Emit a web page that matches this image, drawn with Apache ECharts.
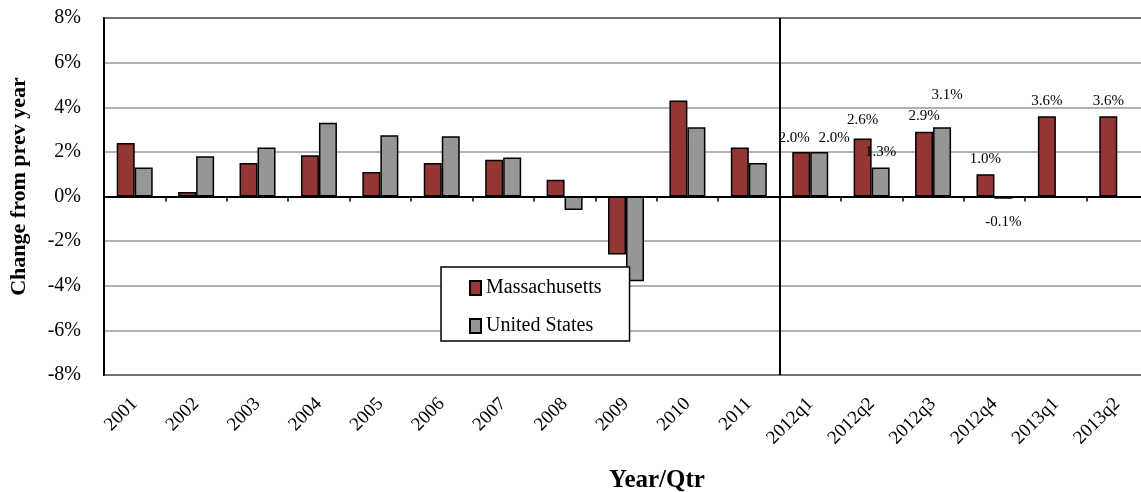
<!DOCTYPE html>
<html><head><meta charset="utf-8">
<script src="https://cdn.jsdelivr.net/npm/echarts@6/dist/echarts.min.js"></script>
<style>html,body{margin:0;padding:0;background:#fff}#c{width:1141px;height:492px}</style>
</head><body><div id="c"></div>
<script>
const categories = ['2001','2002','2003','2004','2005','2006','2007','2008','2009','2010','2011','2012q1','2012q2','2012q3','2012q4','2013q1','2013q2'];
const massValues = [2.4, 0.2, 1.5, 1.85, 1.1, 1.5, 1.65, 0.75, -2.6, 4.3, 2.2, 2.0, 2.6, 2.9, 1.0, 3.6, 3.6];
const usValues   = [1.3, 1.8, 2.2, 3.3, 2.75, 2.7, 1.75, -0.6, -3.8, 3.1, 1.5, 2.0, 1.3, 3.1, -0.1, null, null];
const seriesNames = ['Massachusetts', 'United States'];
const yMin = -8, yMax = 8, yStep = 2;
const firstQuarterIndex = 11;

const FONT = '"Liberation Serif", "Times New Roman", serif';
const colors = ['#943634', '#969696'];
// label position tweaks (layout only)
const tweaks = [{11: [-7, 2], 12: [0, -3]}, {11: [15, 2], 13: [5, -17]}];

function buildData(values, s) {
  return values.map((v, i) => {
    if (v === null) return '-';
    const item = { value: v };
    if (i >= firstQuarterIndex) {
      item.label = {
        show: true,
        position: v < 0 ? 'bottom' : 'top',
        distance: v < 0 ? 16 : 8,
        offset: tweaks[s][i] || [0, 0]
      };
    }
    return item;
  });
}

const chart = echarts.init(document.getElementById('c'), null, { renderer: 'canvas' });
chart.setOption({
  animation: false,
  backgroundColor: '#fff',
  textStyle: { fontFamily: FONT, color: '#000' },
  grid: { left: 104, top: 18, width: 1044, height: 357, show: true, borderColor: '#000', borderWidth: 2, backgroundColor: 'transparent', containLabel: false, outerBoundsMode: 'none' },
  legend: {
    orient: 'vertical', left: 441, top: 267,
    data: seriesNames,
    backgroundColor: '#fff', borderColor: '#000', borderWidth: 1.5,
    padding: [11, 28, 5, 28],
    itemGap: 18, itemWidth: 11, itemHeight: 14,
    textStyle: { fontFamily: FONT, fontSize: 20, color: '#000' },
    icon: 'rect'
  },
  xAxis: [
    {
      type: 'category', data: categories, position: 'bottom',
      axisLine: { show: false, onZero: false },
      axisTick: { show: false },
      axisLabel: { interval: 0, rotate: 45, margin: 26, fontFamily: FONT, fontSize: 19, color: '#000' },
      splitLine: { show: false },
      name: 'Year/Qtr', nameLocation: 'middle', nameGap: 93,
      nameTextStyle: { fontFamily: FONT, fontSize: 25, fontWeight: 'bold', color: '#000', padding: [0, 0, 0, 62] }
    },
    {
      type: 'category', data: categories, position: 'bottom',
      axisLine: { show: true, onZero: true, lineStyle: { color: '#000', width: 2 } },
      axisTick: { show: true, interval: 0, length: 5, lineStyle: { color: '#000', width: 1.5 } },
      axisLabel: { show: false },
      splitLine: { show: false }
    },
    {
      type: 'value', min: 0, max: categories.length, show: false
    }
  ],
  yAxis: {
    type: 'value', min: yMin, max: yMax, interval: yStep,
    axisLine: { show: true, lineStyle: { color: '#000', width: 2 } },
    axisTick: { show: false },
    axisLabel: { formatter: '{value}%', margin: 23, fontFamily: FONT, fontSize: 20, color: '#000' },
    splitLine: { show: true, lineStyle: { color: '#999', width: 1.5 } },
    name: 'Change from prev year', nameLocation: 'middle', nameGap: 74,
    nameTextStyle: { fontFamily: FONT, fontSize: 22, fontWeight: 'bold', color: '#000', padding: [0, 0, 0, 20] }
  },
  series: seriesNames.map((name, s) => ({
    name, type: 'bar', xAxisIndex: 0,
    data: buildData(s === 0 ? massValues : usValues, s),
    barWidth: 18, barGap: '0%',
    itemStyle: { color: colors[s], borderColor: '#000', borderWidth: 1.5 },
    label: { show: false, fontFamily: FONT, fontSize: 15, color: '#000', formatter: (p) => p.value.toFixed(1) + '%' },
    z: 3
  })).concat([{
    name: 'divider', type: 'line', xAxisIndex: 2, data: [],
    markLine: {
      silent: true, symbol: 'none', label: { show: false },
      lineStyle: { color: '#000', width: 2, type: 'solid' },
      data: [{ xAxis: firstQuarterIndex }]
    }
  }])
});
</script></body></html>
